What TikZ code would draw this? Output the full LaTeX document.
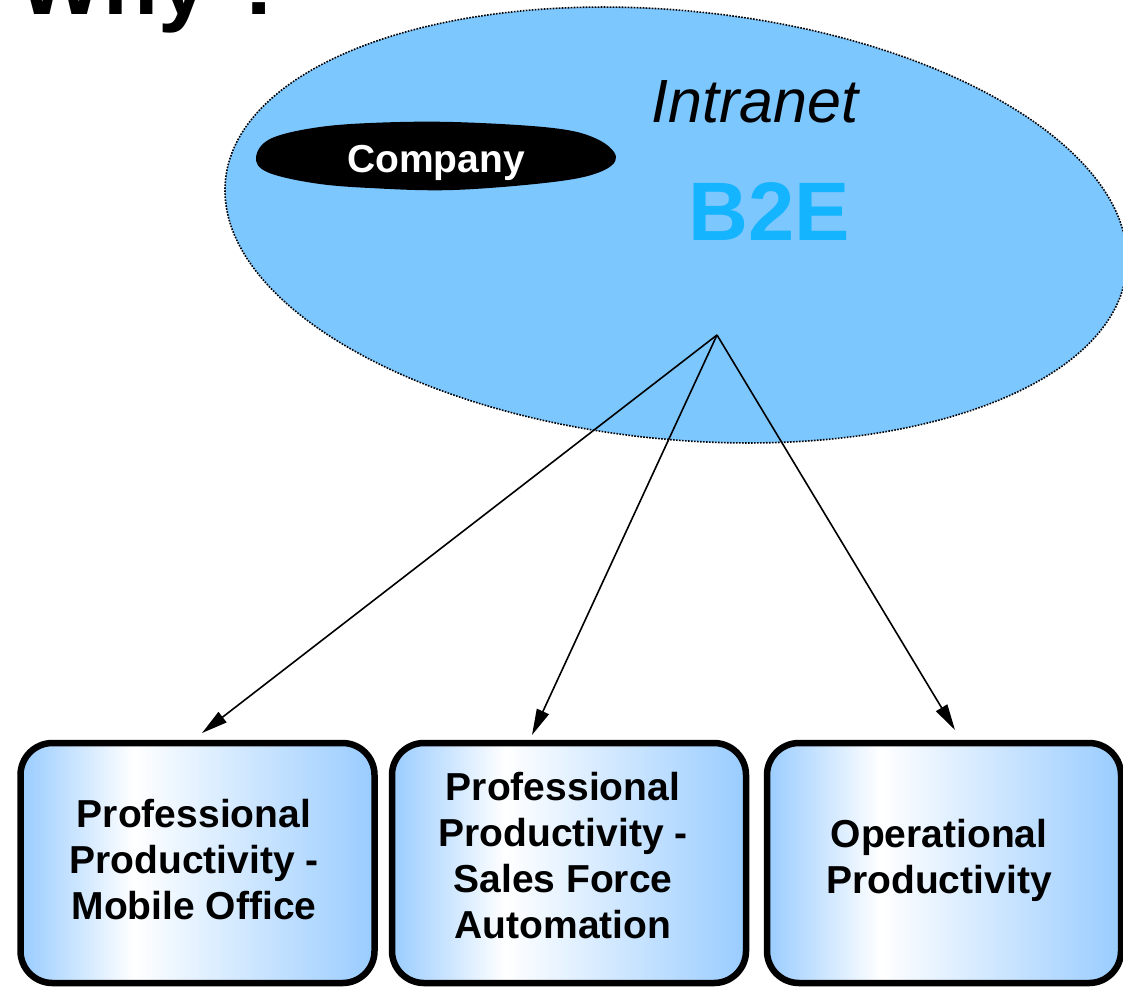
\documentclass[tikz,border=0pt]{standalone}
\usepackage{fontspec}
\setmainfont{Liberation Sans}
\usetikzlibrary{shapes.geometric,arrows.meta}

\definecolor{skyfill}{RGB}{125,199,255}
\definecolor{boxblue}{RGB}{153,204,255}
\definecolor{btwoe}{RGB}{20,180,255}

% horizontal fill for the three result boxes: blue - white - blue
\pgfdeclarehorizontalshading{boxshade}{100bp}{%
  color(0bp)=(boxblue); color(25bp)=(boxblue); color(41bp)=(white);
  color(75bp)=(boxblue); color(100bp)=(boxblue)}

\tikzset{
  cloud/.style={ellipse, draw=black, fill=skyfill, line width=1.6pt,
    dash pattern=on 1.6pt off 1.4pt, inner sep=0pt, outer sep=0pt},
  resultbox/.style={rectangle, draw=black, line width=6.5pt, rounded corners=32pt,
    shading=boxshade, minimum width=354pt, minimum height=240pt, inner sep=0pt},
  boxtext/.style={align=center, anchor=base, inner sep=0pt,
    font=\bfseries\fontsize{39}{46}\selectfont},
  conn/.style={line width=1.6pt, -{Triangle[length=26pt,width=13pt]}},
}

\begin{document}
\begin{tikzpicture}[x=1pt,y=-1pt]
\useasboundingbox (0,0) rectangle (1123,989);

% heading, partly cut by the top edge
\node[anchor=base west, inner sep=0pt, font=\bfseries\fontsize{90}{90}\selectfont]
  (why) at (18,14) {Why ?};

% intranet cloud
\node[cloud, rotate=-5.7, minimum width=905.6pt, minimum height=428.6pt]
  (intranet) at (676,225) {};

% company blob
\fill[black] plot[smooth cycle, tension=0.6] coordinates {
  (256,157) (270,139) (313,128) (370,123) (453,122) (553,128) (597,139)
  (616,157) (600,172) (553,182) (453,190) (370,188) (313,183) (267,172)};
\node[anchor=base, inner sep=0pt, text=white, font=\bfseries\fontsize{39}{39}\selectfont]
  (company) at (436,172) {Company};

\node[anchor=base west, inner sep=0pt, font=\itshape\fontsize{61}{61}\selectfont]
  (intranetlabel) at (651,122) {Intranet};
\node[anchor=base west, inner sep=0pt, text=btwoe, font=\bfseries\fontsize{83}{83}\selectfont]
  (b2e) at (688,240) {B2E};

% result boxes
\node[resultbox] (mobile) at (197.5,863) {};
\node[resultbox] (sales) at (569,863) {};
\node[resultbox] (oper) at (944,863) {};

% box labels (anchored on the baseline of their last line)
\node[boxtext] (mobiletext) at (194,919)
  {Professional\\Productivity -\\Mobile Office};
\node[boxtext] (salestext) at (563,938)
  {Professional\\Productivity -\\Sales Force\\Automation};
\node[boxtext] (opertext) at (939,893)
  {Operational\\Productivity};

% connectors from the intranet
\coordinate (src) at (717,335);
\coordinate (tipmobile) at (202,733);
\coordinate (tipsales) at (532,735);
\coordinate (tipoper) at (955,730);
\draw[conn] (src) -- (tipmobile);
\draw[conn] (src) -- (tipsales);
\draw[conn] (src) -- (tipoper);
\end{tikzpicture}
\end{document}
